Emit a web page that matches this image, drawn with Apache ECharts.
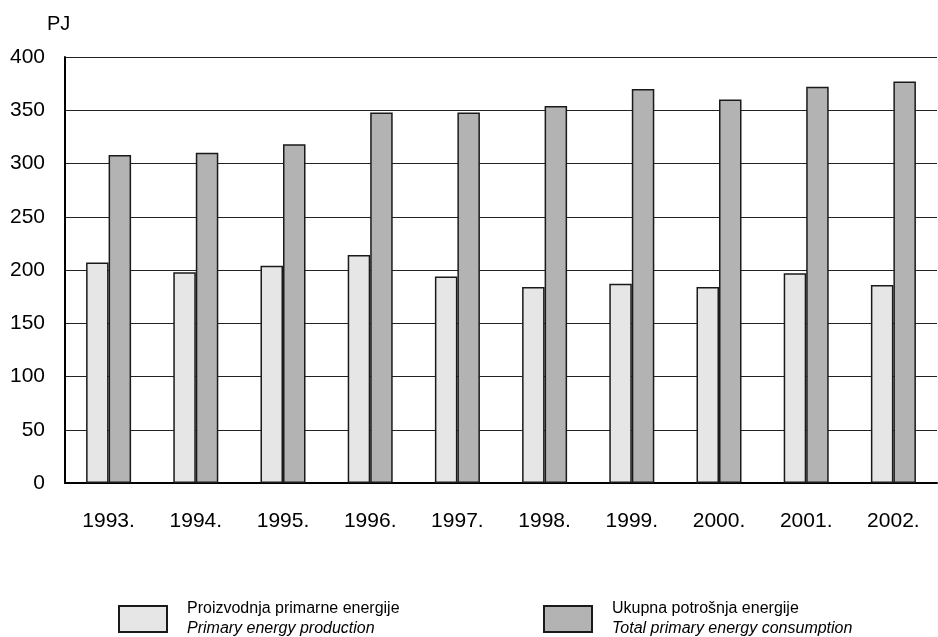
<!DOCTYPE html>
<html>
<head>
<meta charset="utf-8">
<script src="https://cdn.jsdelivr.net/npm/echarts@6/dist/echarts.min.js"></script>
<style>
html,body{margin:0;padding:0;background:#fff;}
#chart{width:938px;height:637px;}
</style>
</head>
<body>
<div id="chart"></div>
<script>
var categories = ['1993.', '1994.', '1995.', '1996.', '1997.', '1998.', '1999.', '2000.', '2001.', '2002.'];
var production = [207, 198, 204, 214, 194, 184, 187, 184, 197, 186];
var consumption = [308, 310, 318, 348, 348, 354, 370, 360, 372, 377];
var yTicks = [0, 50, 100, 150, 200, 250, 300, 350, 400];
var unitLabel = 'PJ';
var nameProd = 'Proizvodnja primarne energije';
var nameProdEn = 'Primary energy production';
var nameCons = 'Ukupna potrošnja energije';
var nameConsEn = 'Total primary energy consumption';

var FONT = '"Liberation Sans", Arial, sans-serif';
var chart = echarts.init(document.getElementById('chart'), null, {renderer: 'canvas'});

function legendRich() {
  return {
    a: {fontFamily: FONT, fontSize: 16, color: '#000', lineHeight: 20},
    b: {fontFamily: FONT, fontSize: 16, color: '#000', fontStyle: 'italic', lineHeight: 20}
  };
}

var option = {
  backgroundColor: '#fff',
  animation: false,
  title: {
    text: unitLabel,
    left: 47, top: 14, padding: 0,
    textStyle: {fontFamily: FONT, fontSize: 20, fontWeight: 'normal', color: '#000'}
  },
  grid: {left: 65, right: 1, top: 57, bottom: 154, containLabel: false},
  legend: [
    {
      data: [nameProd], left: 118, top: 601, padding: 0,
      itemWidth: 48, itemHeight: 26, icon: 'rect',
      formatter: function () { return '{a|' + nameProd + '}\n{b|' + nameProdEn + '}'; },
      textStyle: {rich: legendRich(), padding: [0, 0, 0, 15]}
    },
    {
      data: [nameCons], left: 543, top: 601, padding: 0,
      itemWidth: 48, itemHeight: 26, icon: 'rect',
      formatter: function () { return '{a|' + nameCons + '}\n{b|' + nameConsEn + '}'; },
      textStyle: {rich: legendRich(), padding: [0, 0, 0, 15]}
    }
  ],
  xAxis: {
    type: 'category',
    data: categories,
    axisLine: {lineStyle: {color: '#000', width: 2}},
    axisTick: {show: false},
    axisLabel: {fontFamily: FONT, fontSize: 21, color: '#000', margin: 28}
  },
  yAxis: {
    type: 'value',
    min: yTicks[0], max: yTicks[yTicks.length - 1], interval: 50,
    axisLine: {show: true, lineStyle: {color: '#000', width: 2}},
    axisTick: {show: false},
    axisLabel: {fontFamily: FONT, fontSize: 21, color: '#000', margin: 20},
    splitLine: {lineStyle: {color: '#222', width: 1}}
  },
  series: [
    {
      name: nameProd, type: 'bar', data: production,
      barWidth: 22.5, barGap: '0%',
      itemStyle: {color: '#e6e6e6', borderColor: '#1a1a1a', borderWidth: 1.5}
    },
    {
      name: nameCons, type: 'bar', data: consumption,
      barWidth: 22.5, barGap: '0%',
      itemStyle: {color: '#b3b3b3', borderColor: '#1a1a1a', borderWidth: 1.5}
    }
  ]
};
chart.setOption(option);
</script>
</body>
</html>
